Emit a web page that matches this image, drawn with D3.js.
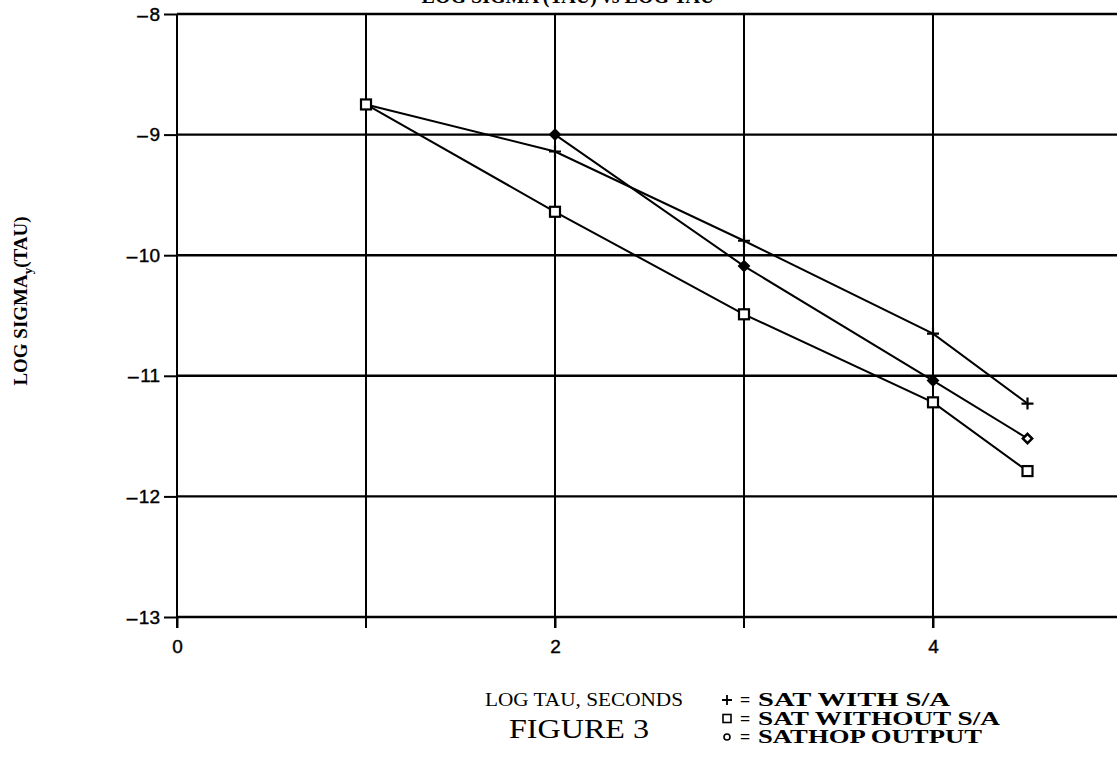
<!DOCTYPE html>
<html>
<head>
<meta charset="utf-8">
<script src="https://cdn.jsdelivr.net/npm/d3@7"></script>
<style>
  body { margin: 0; background: #fff; }
  svg { display: block; }
  .serif { font-family: "Liberation Serif", "DejaVu Serif", serif; fill: #000; }
</style>
</head>
<body>
<div class="graph"></div>
<script>
// data
let logTau = [1, 2, 3, 4, 4.5];
let withSA = [-8.75, -9.14, -9.88, -10.65, -11.23];
let withoutSA = [-8.75, -9.64, -10.49, -11.22, -11.79];
let sathopTau = [2, 3, 4, 4.5];
let sathop = [-9.0, -10.09, -11.04, -11.52];
let xTickLabels = [0, 2, 4];
let yTicks = [-8, -9, -10, -11, -12, -13];
let xGrid = [1, 2, 3, 4];
let legendItems = ["SAT WITH S/A", "SAT WITHOUT S/A", "SATHOP OUTPUT"];
let legendWidths = [192, 242, 224];

let width = 1117, height = 757;

let svg = d3.select(".graph").append("svg")
  .attr("width", width)
  .attr("height", height);

// scales
let x = d3.scaleLinear().domain([0, 5]).range([177, 1122]);
let y = d3.scaleLinear().domain([-8, -13]).range([14, 617]);

// title, cut off by the top edge as in the scan
svg.append("text")
  .attr("class", "serif")
  .attr("x", 568).attr("y", 3)
  .attr("text-anchor", "middle")
  .attr("font-size", 20).attr("font-weight", "bold")
  .text("LOG SIGMA (TAU) vs LOG TAU");

// vertical grid lines
svg.selectAll(".vgrid")
  .data(xGrid)
  .join("line")
  .attr("class", "vgrid")
  .attr("x1", d => x(d)).attr("x2", d => x(d))
  .attr("y1", y(-8)).attr("y2", y(-13) + 11)
  .attr("stroke", "#000").attr("stroke-width", 2);

// horizontal grid lines
svg.selectAll(".hgrid")
  .data(yTicks)
  .join("line")
  .attr("class", "hgrid")
  .attr("x1", x(0)).attr("x2", width)
  .attr("y1", d => y(d)).attr("y2", d => y(d))
  .attr("stroke", "#000").attr("stroke-width", 2.4);

// y axis
let yAxis = svg.append("g")
  .attr("transform", "translate(" + x(0) + ",0)")
  .call(d3.axisLeft(y).tickValues(yTicks).tickSize(13).tickPadding(4)
    .tickFormat(d => "\u2013\u200A" + Math.abs(d)));
yAxis.attr("font-size", 19).attr("font-family", "'Liberation Sans', Arial, sans-serif");
yAxis.select(".domain").attr("stroke-width", 2).attr("d", "M0," + y(-8) + "V" + (y(-13) + 11));
yAxis.selectAll(".tick line").attr("stroke-width", 2);
yAxis.selectAll(".tick text").attr("stroke", "#000").attr("stroke-width", 0.4);

// x axis labels
let xAxis = svg.append("g")
  .attr("transform", "translate(0," + y(-13) + ")")
  .call(d3.axisBottom(x).tickValues(xTickLabels).tickSize(11).tickPadding(12)
    .tickFormat(d3.format("d")));
xAxis.attr("font-size", 19).attr("font-family", "'Liberation Sans', Arial, sans-serif");
xAxis.select(".domain").remove();
xAxis.selectAll(".tick line").attr("stroke-width", 2);
xAxis.selectAll(".tick text").attr("stroke", "#000").attr("stroke-width", 0.4);

// lines
let line = d3.line().x(d => x(d[0])).y(d => y(d[1]));
let s1 = d3.zip(logTau, withSA);
let s2 = d3.zip(logTau, withoutSA);
let s3 = d3.zip(sathopTau, sathop);
[s1, s2, s3].forEach(s => {
  svg.append("path").datum(s)
    .attr("d", line)
    .attr("fill", "none").attr("stroke", "#000").attr("stroke-width", 2);
});

// markers
svg.selectAll(".plus").data(s1.slice(1)).join("path")
  .attr("transform", d => "translate(" + x(d[0]) + "," + y(d[1]) + ")")
  .attr("d", "M-6,0H6M0,-6V6")
  .attr("stroke", "#000").attr("stroke-width", 2.2);

svg.selectAll(".sq").data(s2).join("rect")
  .attr("x", d => x(d[0]) - 5).attr("y", d => y(d[1]) - 5)
  .attr("width", 10).attr("height", 10)
  .attr("fill", "#fff").attr("stroke", "#000").attr("stroke-width", 2.2);

svg.selectAll(".dia").data(s3).join("path")
  .attr("transform", d => "translate(" + x(d[0]) + "," + y(d[1]) + ")")
  .attr("d", d3.symbol(d3.symbolDiamond2, 55))
  .attr("fill", (d, i) => i === 3 ? "#fff" : "#000")
  .attr("stroke", "#000").attr("stroke-width", 2.5);

// x axis title and figure caption
svg.append("text").attr("class", "serif")
  .attr("x", 584).attr("y", 706)
  .attr("text-anchor", "middle").attr("font-size", 19)
  .attr("textLength", 198).attr("lengthAdjust", "spacingAndGlyphs")
  .text("LOG TAU, SECONDS");
svg.append("text").attr("class", "serif")
  .attr("x", 579).attr("y", 738)
  .attr("text-anchor", "middle").attr("font-size", 28)
  .attr("textLength", 140).attr("lengthAdjust", "spacingAndGlyphs")
  .text("FIGURE 3");

// y axis title
svg.append("g").attr("transform", "translate(27,301) rotate(-90)")
  .append("text").attr("class", "serif")
  .attr("text-anchor", "middle").attr("font-size", 19).attr("font-weight", "bold")
  .html('LOG SIGMA<tspan dy="5" font-size="13">y</tspan><tspan dy="-5">(TAU)</tspan>');

// legend
let legend = svg.selectAll(".leg").data(legendItems).join("g")
  .attr("transform", (d, i) => "translate(727," + (700 + i * 18.5) + ")");
legend.each(function(d, i) {
  let g = d3.select(this);
  if (i === 0) g.append("path").attr("d", "M-5,0H5M0,-5V5").attr("stroke", "#000").attr("stroke-width", 1.8);
  if (i === 1) g.append("rect").attr("x", -4).attr("y", -4).attr("width", 8).attr("height", 8)
    .attr("fill", "none").attr("stroke", "#000").attr("stroke-width", 1.6);
  if (i === 2) g.append("circle").attr("r", 3).attr("fill", "none").attr("stroke", "#000").attr("stroke-width", 1.6);
  g.append("text").attr("class", "serif").attr("x", 13).attr("y", 6)
    .attr("font-size", 18).attr("font-weight", "bold")
    .text("=");
  g.append("text").attr("class", "serif").attr("x", 31).attr("y", 6)
    .attr("font-size", 18).attr("font-weight", "bold")
    .attr("textLength", legendWidths[i]).attr("lengthAdjust", "spacingAndGlyphs")
    .text(d);
});
</script>
</body>
</html>
